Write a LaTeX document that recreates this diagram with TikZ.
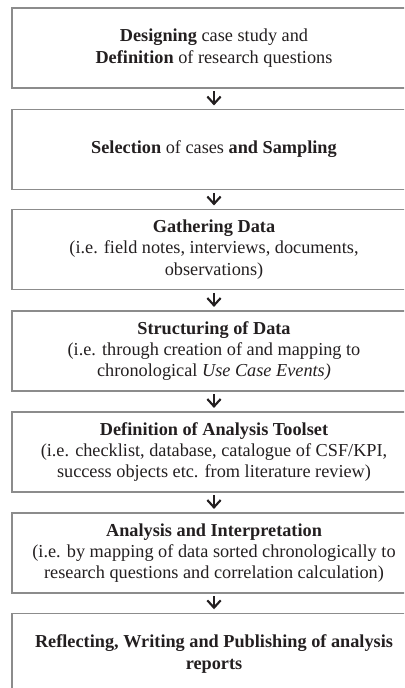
\documentclass[tikz,border=0pt]{standalone}
\usepackage{fontspec}
\setmainfont{Liberation Serif}
\usetikzlibrary{arrows.meta}
\definecolor{boxgray}{HTML}{8C8C8C}
\definecolor{ink}{HTML}{231F20}
\begin{document}
\begin{tikzpicture}[x=0.75pt,y=-0.75pt,
  stage/.style={draw=boxgray, line width=1.1pt, rectangle, minimum width=303pt,
    minimum height=60pt, align=center, text=ink, inner sep=0pt,
    font=\fontsize{13.7}{16}\selectfont},
  flow/.style={draw=ink, line width=1.6pt,
    -{Straight Barb[length=5.5pt,width=10pt]}, shorten <=2pt, shorten >=2.5pt}]
\useasboundingbox (0,0) rectangle (404,688);
\clip (0,0) rectangle (404,688);

% process stages, top to bottom
\node[stage] (s1) at (214,48)
  {\textbf{Designing} case study and\\ \textbf{Definition} of research questions};
\node[stage] (s2) at (214,149.5)
  {\textbf{Selection} of cases \textbf{and Sampling}};
\node[stage] (s3) at (214,249.5)
  {\textbf{Gathering Data}\\ (i.e. field notes, interviews, documents,\\ observations)};
\node[stage] (s4) at (214,351)
  {\textbf{Structuring of Data}\\ (i.e. through creation of and mapping to\\ chronological \textit{Use Case Events)}};
\node[stage] (s5) at (214,452)
  {\textbf{Definition of Analysis Toolset}\\ (i.e. checklist, database, catalogue of CSF/KPI,\\ success objects etc. from literature review)};
\node[stage] (s6) at (214,553)
  {\textbf{Analysis and Interpretation}\\ (i.e. by mapping of data sorted chronologically to\\ research questions and correlation calculation)};
\node[stage, minimum height=61pt] (s7) at (214,654)
  {\textbf{Reflecting, Writing and Publishing of analysis}\\ \textbf{reports}};

% connectors
\draw[flow] (s1.south) -- (s2.north);
\draw[flow] (s2.south) -- (s3.north);
\draw[flow] (s3.south) -- (s4.north);
\draw[flow] (s4.south) -- (s5.north);
\draw[flow] (s5.south) -- (s6.north);
\draw[flow] (s6.south) -- (s7.north);
\end{tikzpicture}
\end{document}
